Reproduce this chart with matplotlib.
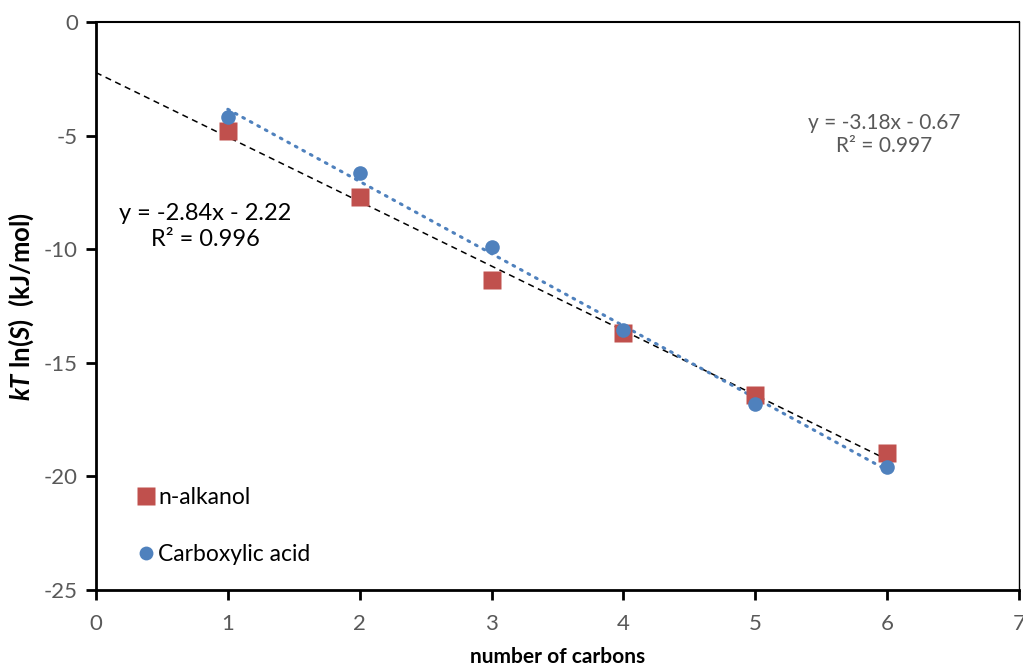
import numpy as np
import matplotlib
matplotlib.use("Agg")
import matplotlib.pyplot as plt

plt.rcParams['font.family'] = ['Lato', 'DejaVu Sans']
plt.rcParams['axes.unicode_minus'] = False
plt.rcParams['mathtext.fontset'] = 'custom'
plt.rcParams['mathtext.rm'] = 'Lato'
plt.rcParams['mathtext.bfit'] = 'Lato:bold:italic'
plt.rcParams['mathtext.bf'] = 'Lato:bold'

carbons = [1, 2, 3, 4, 5, 6]
alkanol = [-4.80, -7.71, -11.36, -13.69, -16.42, -18.98]
acid = [-4.18, -6.65, -9.90, -13.56, -16.81, -19.59]

red = '#C0504D'
blue = '#4F81BD'
gray = '#595959'

fig = plt.figure(figsize=(10.23, 6.68), dpi=100)
ax = fig.add_axes([0.0938, 0.1168, 0.9022, 0.8502])

x = np.array(carbons)

# trendlines (Excel style)
k1, b1 = np.polyfit(x, alkanol, 1)
xs1 = np.array([0, 6])
ax.plot(xs1, k1 * xs1 + b1, color='black', lw=1.1, ls=(0, (4, 3)), zorder=2)
k2, b2 = np.polyfit(x, acid, 1)
xs2 = np.array([1, 6])
ax.plot(xs2, k2 * xs2 + b2, color=blue, lw=2.2, ls=(0, (0.6, 2.2)),
        dash_capstyle='round', zorder=2)

ax.plot(x, alkanol, 's', color=red, ms=13, mec='none', label='n-alkanol', zorder=3)
ax.plot(x, acid, 'o', color=blue, ms=10.5, mec='none', label='Carboxylic acid', zorder=4)

ax.set_xlim(0, 7)
ax.set_ylim(-25, 0)
ax.set_xticks(range(0, 8))
ax.set_yticks(range(-25, 1, 5))
for s in ax.spines.values():
    s.set_linewidth(1.0)
ax.spines['left'].set_linewidth(2)
ax.spines['bottom'].set_linewidth(2)
ax.spines['top'].set_linewidth(1.5)
ax.tick_params(axis='both', direction='out', length=7, width=2, colors='black',
               labelcolor=gray, labelsize=16, pad=6)
ax.tick_params(axis='x', pad=10)

ax.set_xlabel('number of carbons', fontsize=15, fontweight='bold', labelpad=10)
ax.set_ylabel(r'$\mathbfit{kT}$ $\mathbf{ln(}$$\mathbfit{S}$$\mathbf{)}$  (kJ/mol)',
              fontsize=18.5, fontweight='bold', labelpad=6)

ax.text(0.83, -9.0, 'y = -2.84x - 2.22\nR² = 0.996', ha='center', va='center',
        fontsize=17, color='black', linespacing=1.25)
ax.text(5.98, -4.95, 'y = -3.18x - 0.67\nR² = 0.997', ha='center', va='center',
        fontsize=15, color=gray, linespacing=1.2)

ax.legend(loc='lower left', bbox_to_anchor=(0.019, 0.008), frameon=False,
          fontsize=16.5, labelspacing=1.55, handletextpad=0.05, handlelength=1.0,
          numpoints=1, markerscale=0.95)

fig.savefig('out.png', dpi=100)
